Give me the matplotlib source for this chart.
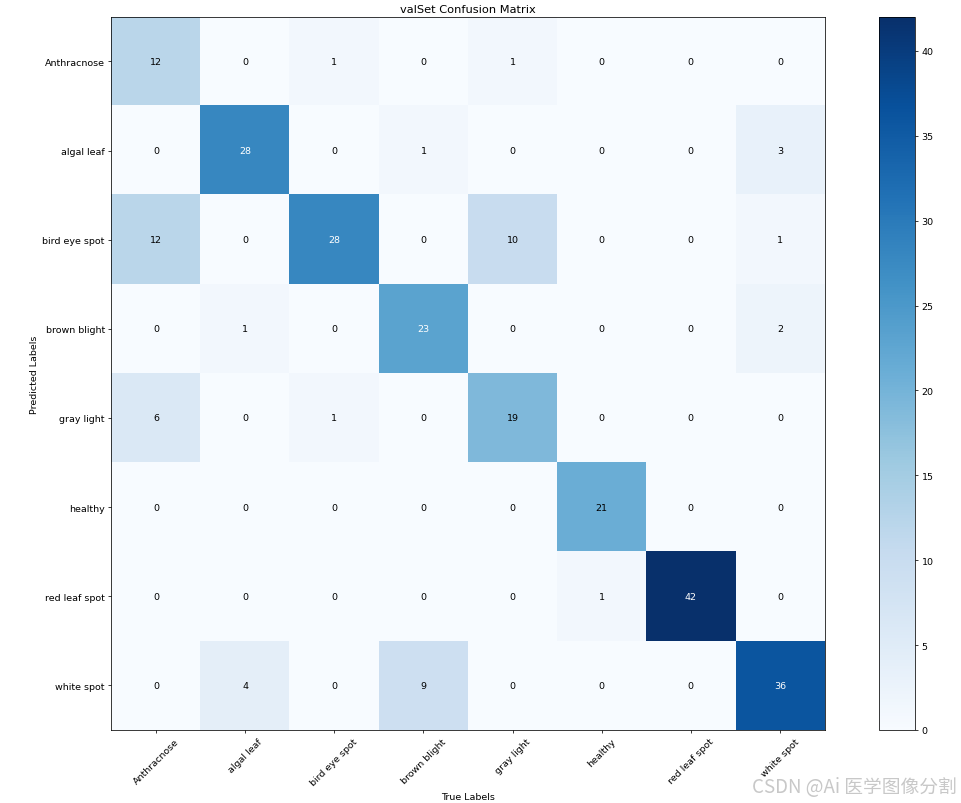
import matplotlib.pyplot as plt
import numpy as np

classes = ['Anthracnose', 'algal leaf', 'bird eye spot', 'brown blight',
           'gray light', 'healthy', 'red leaf spot', 'white spot']

# rows: predicted, cols: true
row_anthracnose = [12, 0, 1, 0, 1, 0, 0, 0]
row_algal_leaf = [0, 28, 0, 1, 0, 0, 0, 3]
row_bird_eye_spot = [12, 0, 28, 0, 10, 0, 0, 1]
row_brown_blight = [0, 1, 0, 23, 0, 0, 0, 2]
row_gray_light = [6, 0, 1, 0, 19, 0, 0, 0]
row_healthy = [0, 0, 0, 0, 0, 21, 0, 0]
row_red_leaf_spot = [0, 0, 0, 0, 0, 1, 42, 0]
row_white_spot = [0, 4, 0, 9, 0, 0, 0, 36]

cm = np.array([row_anthracnose, row_algal_leaf, row_bird_eye_spot, row_brown_blight,
               row_gray_light, row_healthy, row_red_leaf_spot, row_white_spot])

s = 0.68  # picture was shrunk from a bigger figure
plt.rcParams['axes.linewidth'] = 0.8 * s
plt.rcParams['xtick.major.size'] = 3.5 * s
plt.rcParams['ytick.major.size'] = 3.5 * s
plt.rcParams['xtick.major.width'] = 0.8 * s
plt.rcParams['ytick.major.width'] = 0.8 * s
plt.rcParams['xtick.major.pad'] = 3.5 * s
plt.rcParams['ytick.major.pad'] = 3.5 * s

fig = plt.figure(figsize=(9.61, 8.04), dpi=100)
ax = fig.add_axes([0.1155, 0.0908, 0.743, 0.887])
im = ax.imshow(cm, interpolation='nearest', cmap=plt.cm.Blues)
ax.set_title('valSet Confusion Matrix', fontsize=12 * s, pad=5 * s)

cax = fig.add_axes([0.9147, 0.0908, 0.0375, 0.887])
cb = fig.colorbar(im, cax=cax)
cb.ax.tick_params(labelsize=10 * s)

ticks = np.arange(len(classes))
ax.set_xticks(ticks)
ax.set_xticklabels(classes, rotation=45, fontsize=10 * s)
ax.set_yticks(ticks)
ax.set_yticklabels(classes, fontsize=10 * s)

thresh = cm.max() / 2
for i in range(cm.shape[0]):
    for j in range(cm.shape[1]):
        ax.text(j, i, cm[i, j], ha='center', va='center', fontsize=10 * s,
                color='white' if cm[i, j] > thresh else 'black')

ax.set_ylabel('Predicted Labels', fontsize=10 * s, labelpad=4 * s)
ax.set_xlabel('True Labels', fontsize=10 * s, labelpad=5.5 * s)

# watermark
fig.text(0.996, 0.007, 'CSDN @Ai 医学图像分割', ha='right', va='bottom',
         fontsize=13.5, color='#c8c8c8', family=['Noto Sans CJK SC', 'DejaVu Sans'])

fig.savefig('out.png', dpi=100)
